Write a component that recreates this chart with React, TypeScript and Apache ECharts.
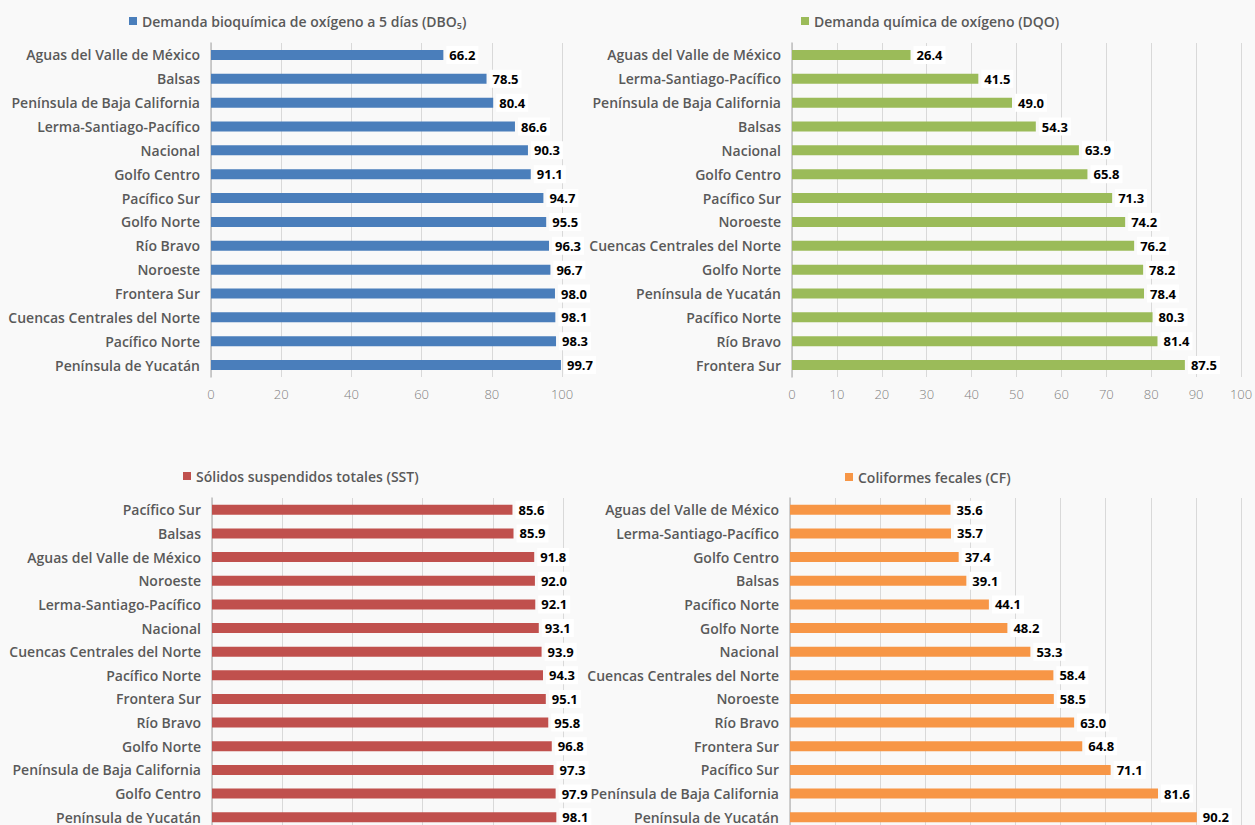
import React, { useEffect, useRef } from "react";
import * as echarts from "echarts";

const dboCats = ["Aguas del Valle de México", "Balsas", "Península de Baja California", "Lerma-Santiago-Pacífico", "Nacional", "Golfo Centro", "Pacífico Sur", "Golfo Norte", "Río Bravo", "Noroeste", "Frontera Sur", "Cuencas Centrales del Norte", "Pacífico Norte", "Península de Yucatán"];
const dboVals = [66.2, 78.5, 80.4, 86.6, 90.3, 91.1, 94.7, 95.5, 96.3, 96.7, 98.0, 98.1, 98.3, 99.7];

const dqoCats = ["Aguas del Valle de México", "Lerma-Santiago-Pacífico", "Península de Baja California", "Balsas", "Nacional", "Golfo Centro", "Pacífico Sur", "Noroeste", "Cuencas Centrales del Norte", "Golfo Norte", "Península de Yucatán", "Pacífico Norte", "Río Bravo", "Frontera Sur"];
const dqoVals = [26.4, 41.5, 49.0, 54.3, 63.9, 65.8, 71.3, 74.2, 76.2, 78.2, 78.4, 80.3, 81.4, 87.5];

const sstCats = ["Pacífico Sur", "Balsas", "Aguas del Valle de México", "Noroeste", "Lerma-Santiago-Pacífico", "Nacional", "Cuencas Centrales del Norte", "Pacífico Norte", "Frontera Sur", "Río Bravo", "Golfo Norte", "Península de Baja California", "Golfo Centro", "Península de Yucatán"];
const sstVals = [85.6, 85.9, 91.8, 92.0, 92.1, 93.1, 93.9, 94.3, 95.1, 95.8, 96.8, 97.3, 97.9, 98.1];

const cfCats = ["Aguas del Valle de México", "Lerma-Santiago-Pacífico", "Golfo Centro", "Balsas", "Pacífico Norte", "Golfo Norte", "Nacional", "Cuencas Centrales del Norte", "Noroeste", "Río Bravo", "Frontera Sur", "Pacífico Sur", "Península de Baja California", "Península de Yucatán"];
const cfVals = [35.6, 35.7, 37.4, 39.1, 44.1, 48.2, 53.3, 58.4, 58.5, 63.0, 64.8, 71.1, 81.6, 90.2];

const seriesNames = [
  "Demanda bioquímica de oxígeno a 5 días (DBO₅)",
  "Demanda química de oxígeno (DQO)",
  "Sólidos suspendidos totales (SST)",
  "Coliformes fecales (CF)",
];
const xIntervals = [20, 10, 20, 10];

const FONT = "'Open Sans', 'DejaVu Sans', sans-serif";
const colors = ["#4A7EBB", "#9BBB59", "#C0504D", "#F79646"];

export default function App() {
  const ref = useRef<HTMLDivElement>(null);
  useEffect(() => {
    if (!ref.current) return;
    const chart = echarts.init(ref.current, undefined, { renderer: "svg" });
    const cats = [dboCats, dqoCats, sstCats, cfCats];
    const vals = [dboVals, dqoVals, sstVals, cfVals];
    const grids = [
      { left: 211, top: 43, width: 351, height: 334 },
      { left: 792, top: 43, width: 449, height: 334 },
      { left: 212, top: 498, width: 351, height: 331 },
      { left: 790, top: 498, width: 451, height: 331 },
    ];
    const legendPos = [
      { left: 129, top: 14 },
      { left: 801, top: 14 },
      { left: 183, top: 469 },
      { left: 845, top: 470 },
    ];
    const option: any = {
      animation: false,
      backgroundColor: "#F9F9F9",
      grid: grids.map((g) => ({ ...g, containLabel: false, outerBoundsMode: "none" })),
      legend: seriesNames.map((n, i) => ({
        data: [n],
        ...legendPos[i],
        padding: 0,
        icon: "rect",
        itemWidth: 8,
        itemHeight: 8,
        itemGap: 4,
        selectedMode: false,
        textStyle: { color: "#595959", fontSize: 14, fontWeight: 600, fontFamily: FONT },
      })),
      xAxis: grids.map((_, i) => ({
        type: "value",
        gridIndex: i,
        min: 0,
        max: 100,
        interval: xIntervals[i],
        axisLine: { show: false },
        axisTick: { show: false },
        splitLine: { show: true, lineStyle: { color: "#D9D9D9", width: 1 } },
        axisLabel: { show: i < 2, color: "#7F7F7F", fontSize: 13, fontFamily: FONT, fontWeight: 300, margin: 10 },
      })),
      yAxis: grids.map((_, i) => ({
        type: "category",
        gridIndex: i,
        inverse: true,
        data: cats[i],
        axisLine: { show: true, lineStyle: { color: "#BFBFBF", width: 1.5 } },
        axisTick: { show: false },
        axisLabel: { color: "#595959", fontSize: 14, fontWeight: 600, fontFamily: FONT, margin: 11 },
      })),
      series: seriesNames.map((n, i) => ({
        name: n,
        type: "bar",
        xAxisIndex: i,
        yAxisIndex: i,
        data: vals[i],
        barWidth: 10,
        itemStyle: { color: colors[i] },
        label: {
          show: true,
          position: "right",
          distance: 3,
          color: "#000",
          fontSize: 13,
          fontWeight: "bold",
          fontFamily: FONT,
          backgroundColor: "#FFFFFF",
          padding: [3, 3, 2, 3],
          formatter: (p: any) => Number(p.value).toFixed(1),
        },
      })),
    };
    chart.setOption(option);
    return () => chart.dispose();
  }, []);
  return <div ref={ref} style={{ position: "fixed", left: 0, top: 0, width: 1255, height: 825 }} />;
}
